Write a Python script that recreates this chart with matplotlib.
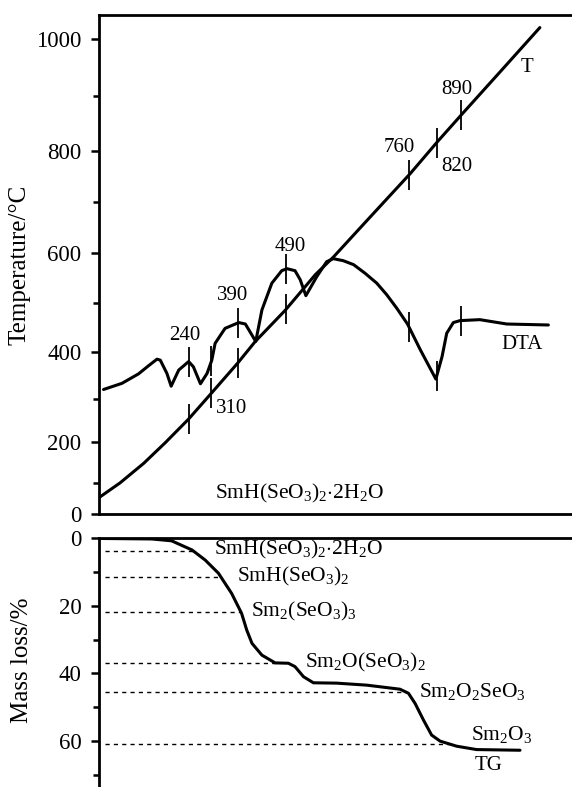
import numpy as np
import matplotlib
matplotlib.use("Agg")
import matplotlib.pyplot as plt

plt.rcParams['font.family'] = ['Liberation Serif', 'DejaVu Serif']
plt.rcParams['mathtext.fontset'] = 'custom'
plt.rcParams['mathtext.rm'] = 'Liberation Serif'
plt.rcParams['mathtext.it'] = 'Liberation Serif:italic'
plt.rcParams['lines.solid_joinstyle'] = 'round'
plt.rcParams['lines.solid_capstyle'] = 'round'

# echelle de temperature de l'original (graduations pas tout a fait regulieres)
axe_T_val = [-200, 0, 100, 200, 300, 400, 500, 600, 700, 800, 900, 1000, 1200]
axe_T_pos = [-61.4, 0, 30.7, 72.3, 115, 162.3, 210.7, 260.7, 312.3, 363.3, 417.3, 474.7, 589.5]

def vers_pos(v):
    return np.interp(v, axe_T_val, axe_T_pos)

def vers_val(h):
    return np.interp(h, axe_T_pos, axe_T_val)

# courbe T (temperature du four) en fonction du temps (unites arbitraires)
t_T = [0.0, 4.4, 9.4, 14.0, 18.9, 23.7, 29.3, 33.0, 39.3, 45.7, 49.5, 57.3, 65.8, 71.7, 77.0, 84.8, 93.2]
T = [54, 101, 148, 198, 253, 312, 376, 421, 485, 557, 592, 670, 755, 818, 870, 943, 1020]

# courbe DTA
t_dta = [0.9, 4.8, 8.3, 10.4, 12.2, 12.9, 14.3, 15.2, 16.8, 18.9, 19.9, 21.4, 22.8, 23.8, 24.5,
         26.6, 29.5, 30.9, 33.1, 34.4, 36.5, 38.6, 39.7, 41.4, 42.5, 43.7, 46.0, 48.1, 49.5,
         51.6, 53.8, 56.2, 58.7, 60.8, 62.9, 65.2, 67.9, 71.2, 72.5, 73.5, 74.9, 76.3,
         80.5, 86.2, 95.0]
dta = [320, 333, 353, 370, 384, 382, 354, 327, 361, 379, 368, 332, 354, 382, 417,
       448, 460, 457, 421, 486, 540, 565, 569, 565, 547, 515, 553, 583, 589,
       585, 577, 560, 540, 517, 490, 457, 404, 342, 389, 438, 460, 464,
       466, 457, 455]

# reperes (traits verticaux) sur T et DTA
t_reperes = [18.9, 23.7, 29.3, 39.6, 65.5, 71.4, 76.6]

# courbe TG (perte de masse en %)
t_tg = [0.1, 11.1, 15.3, 19.6, 22.4, 25.2, 28.0, 30.1, 31.2, 32.3, 34.4, 37.2, 40.0, 41.4,
        43.2, 45.3, 50.2, 56.6, 63.6, 65.4, 66.8, 68.6, 70.3, 72.1, 75.6, 79.8, 89.0]
tg = [0, 0.15, 0.7, 3.4, 6.4, 10.3, 16.3, 22.2, 27.2, 31.1, 34.6, 36.9, 37.0, 38.0,
      41.0, 42.8, 42.9, 43.5, 44.7, 45.9, 48.9, 53.9, 58.3, 60.1, 61.6, 62.6, 62.8]

# paliers (lignes pointillees) et composes
paliers = [3.7, 11.3, 21.7, 36.9, 45.5, 61.0]
composes = [r'$\mathrm{SmH(SeO_3)_2{\cdot}2H_2O}$', r'$\mathrm{SmH(SeO_3)_2}$',
            r'$\mathrm{Sm_2(SeO_3)_3}$', r'$\mathrm{Sm_2O(SeO_3)_2}$',
            r'$\mathrm{Sm_2O_2SeO_3}$', r'$\mathrm{Sm_2O_3}$']

fig = plt.figure(figsize=(5.72, 7.87), dpi=100)
ax1 = fig.add_axes([0.1736, 0.3469, 0.8264, 0.6341])
ax2 = fig.add_axes([0.1736, 0.0, 0.8264, 0.3158])

# --- panneau du haut : T et DTA
ax1.set_yscale('function', functions=(vers_pos, vers_val))
ax1.set_xlim(0, 100)
ax1.set_ylim(0, 1042)
ax1.plot(t_T, T, color='black', lw=2.2)
ax1.plot(t_dta, dta, color='black', lw=2.2)
ax1.plot(t_reperes, np.interp(t_reperes, t_T, T), ls='none', marker='|',
         ms=21, mew=1.3, color='black')
ax1.plot(t_reperes, np.interp(t_reperes, t_dta, dta), ls='none', marker='|',
         ms=21, mew=1.3, color='black')

ax1.text(18.0, 434, '240', fontsize=15, ha='center', va='center')
ax1.text(27.9, 278, '310', fontsize=15, ha='center', va='center')
ax1.text(28.2, 515, '390', fontsize=15, ha='center', va='center')
ax1.text(40.4, 613, '490', fontsize=15, ha='center', va='center')
ax1.text(63.4, 805, '760', fontsize=15, ha='center', va='center')
ax1.text(75.6, 769, '820', fontsize=15, ha='center', va='center')
ax1.text(75.6, 912, '890', fontsize=15, ha='center', va='center')
ax1.text(90.4, 950, 'T', fontsize=15, ha='center', va='center')
ax1.text(89.4, 414, 'DTA', fontsize=15, ha='center', va='center')
ax1.text(24.5, 68, composes[0], fontsize=15.5, ha='left', va='center')

ax1.set_yticks([0, 200, 400, 600, 800, 1000])
ax1.set_yticks([100, 300, 500, 700, 900], minor=True)
ax1.set_ylabel('Temperature/°C', fontsize=18)
ax1.yaxis.set_label_coords(-0.1445, 0.5)

# --- panneau du bas : TG
ax2.set_xlim(0, 100)
ax2.set_ylim(73.7, 0)
ax2.plot(t_tg, tg, color='black', lw=2.2)
fins = np.interp(paliers, tg, t_tg)
ax2.hlines(paliers, 1.2, fins, colors='black', linestyles=(0, (3, 3)), lw=1)

pos_composes = [(24.2, 3.4), (29.1, 11.4), (32.1, 21.8), (43.6, 36.9), (67.7, 45.5), (78.6, 58.2)]
for (x, y), nom in zip(pos_composes, composes):
    ax2.text(x, y, nom, fontsize=15.5, ha='left', va='center')
ax2.text(79.5, 67.3, 'TG', fontsize=15, ha='left', va='center')

ax2.set_yticks([0, 20, 40, 60])
ax2.set_yticks([10, 30, 50, 70], minor=True)
ax2.set_ylabel('Mass loss/%', fontsize=18)
ax2.yaxis.set_label_coords(-0.140, 0.509)

for ax in (ax1, ax2):
    ax.spines['right'].set_visible(False)
    for s in ax.spines.values():
        s.set_linewidth(2)
    ax.tick_params(axis='x', bottom=False, labelbottom=False)
    ax.tick_params(axis='y', which='major', direction='out', length=5.8, width=1.8,
                   pad=7, labelsize=16.5)
    ax.tick_params(axis='y', which='minor', direction='out', length=4, width=1.8)
ax2.spines['bottom'].set_visible(False)

fig.savefig('out.png', dpi=100)
